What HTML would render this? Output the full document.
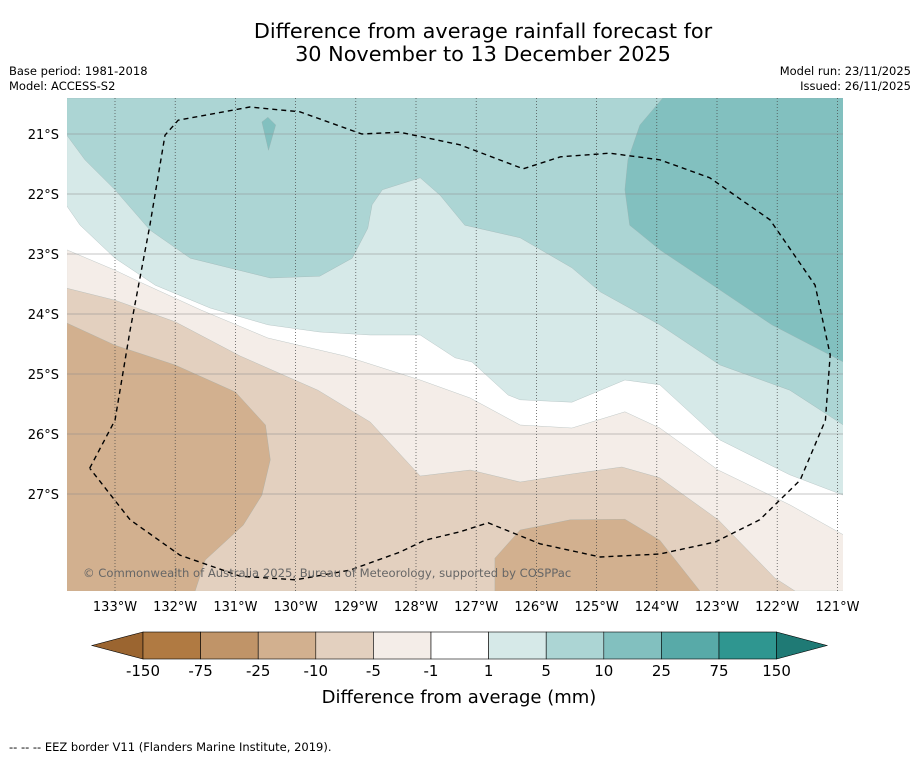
<!DOCTYPE html>
<html><head><meta charset="utf-8">
<style>
body{margin:0;background:#fff;font-family:"Liberation Sans","DejaVu Sans",sans-serif;}
svg text{font-family:"DejaVu Sans","Liberation Sans",sans-serif;}
</style></head>
<body>
<svg id="chart" width="919" height="758" viewBox="0 0 919 758" xmlns="http://www.w3.org/2000/svg">
<text x="483" y="38" font-size="20.8" text-anchor="middle">Difference from average rainfall forecast for</text>
<text x="483" y="61" font-size="20.8" text-anchor="middle">30 November to 13 December 2025</text>
<text x="9" y="75" font-size="11.5">Base period: 1981-2018</text>
<text x="9" y="90" font-size="11.5">Model: ACCESS-S2</text>
<text x="911" y="75" font-size="11.5" text-anchor="end">Model run: 23/11/2025</text>
<text x="911" y="90" font-size="11.5" text-anchor="end">Issued: 26/11/2025</text>
<defs><clipPath id="plotclip"><rect x="67" y="98" width="776" height="493"/></clipPath></defs>
<g id="plot" clip-path="url(#plotclip)"></g>
<g id="axes"></g>
<g id="cbar"></g>
<text x="459" y="703" font-size="18" text-anchor="middle">Difference from average (mm)</text>
<text x="9" y="751" font-size="11.5">--  --  -- EEZ border V11 (Flanders Marine Institute, 2019).</text>
</svg>
<script>
// axes definitions
const lonTicks=[133,132,131,130,129,128,127,126,125,124,123,122,121];
const latTicks=[21,22,23,24,25,26,27];
// colorbar data
const cbarLevels=[-150,-75,-25,-10,-5,-1,1,5,10,25,75,150];
const cbarColors=["#b07a42","#c09468","#d2b08f","#e3d0bf","#f4ede8","#ffffff","#d6e9e8","#acd5d4","#82c0bf","#58aaa8","#2f9690"];
const cbarExtendColors=["#9b6530","#1f7a75"];
// contour boundaries (lon °W, lat °S)
const bMinus1=[[133.8,22.93],[133,23.27],[132.58,23.47],[131.58,23.93],[130.46,24.4],[129.18,24.7],[127.93,25.1],[127.1,25.4],[126.27,25.85],[125.41,25.9],[124.53,25.63],[123.95,25.9],[122.98,26.6],[121.79,27.18],[120.9,27.68]];
const bMinus5=[[133.8,23.57],[133,23.77],[132,24.13],[130.92,24.7],[129.63,25.27],[128.76,25.8],[127.93,26.7],[127.1,26.6],[126.27,26.8],[125.44,26.67],[124.58,26.55],[123.95,26.73],[122.98,27.43],[122.04,28.4],[121.7,28.62]];
const bMinus10a=[[133.8,24.15],[133,24.52],[132,24.85],[131,25.3],[130.5,25.85],[130.42,26.43],[130.56,27.02],[130.87,27.52],[131.5,28.1],[131.67,28.62]];
const bMinus10b=[[126.69,28.62],[126.69,28.07],[126.27,27.6],[125.44,27.43],[124.53,27.42],[123.95,27.77],[123.28,28.62]];
const bPlus1=[[133.8,22.2],[133.58,22.52],[133,23.07],[132.33,23.52],[131.42,23.9],[130.46,24.18],[129.6,24.3],[128.76,24.35],[127.93,24.35],[127.35,24.73],[127.07,24.8],[126.47,25.35],[126.27,25.43],[125.41,25.47],[124.53,25.1],[123.95,25.18],[122.95,26.1],[121.79,26.68],[120.9,27.02]];
const bPlus5=[[133.8,21.02],[133.5,21.43],[133,21.93],[132.42,22.6],[131.75,23.07],[130.42,23.4],[129.6,23.37],[129.06,23.07],[128.8,22.57],[128.73,22.18],[128.56,21.93],[127.93,21.73],[127.6,22.02],[127.19,22.52],[126.27,22.73],[125.41,23.23],[124.94,23.63],[123.95,24.18],[122.95,24.85],[121.79,25.27],[120.9,25.85]];
const bPlus10=[[123.9,20.4],[124.28,20.85],[124.48,21.43],[124.53,21.93],[124.45,22.52],[123.95,22.93],[122.95,23.6],[122.09,24.18],[120.9,24.8]];
const bPlus10spike=[[130.56,20.8],[130.46,20.72],[130.33,20.85],[130.45,21.27]];
const eez=[[133.42,26.57],[133,25.77],[132.75,24.27],[132.42,22.52],[132.17,21.02],[131.95,20.77],[130.76,20.55],[129.93,20.63],[128.9,21],[128.27,20.97],[127.27,21.18],[126.22,21.58],[125.6,21.38],[124.78,21.32],[123.95,21.43],[123.12,21.73],[122.12,22.43],[121.37,23.52],[121.12,24.68],[121.2,25.77],[121.62,26.77],[122.29,27.43],[123.03,27.8],[123.95,28],[124.94,28.05],[125.94,27.83],[126.8,27.48],[127.27,27.63],[127.85,27.77],[128.27,27.97],[129.1,28.27],[130,28.43],[130.92,28.37],[131.92,28.02],[132.75,27.43],[133.42,26.57]];

const NS="http://www.w3.org/2000/svg";
function X(lonW){return 115+(133-lonW)*60.2;}
function Y(latS){return 134+(latS-21)*60;}
function mk(tag,attrs,parent){const e=document.createElementNS(NS,tag);for(const k in attrs)e.setAttribute(k,attrs[k]);parent.appendChild(e);return e;}
function pts(arr){return arr.map(p=>X(p[0]).toFixed(1)+","+Y(p[1]).toFixed(1)).join(" ");}
const plot=document.getElementById("plot"),axes=document.getElementById("axes"),cbar=document.getElementById("cbar");
const L=133.8,R=120.9,T=20.4,B=28.62;
mk("rect",{x:67,y:98,width:776,height:493,fill:"#ffffff"},plot);
function band(arr,extra,color,name){
  const p=mk("polygon",{points:pts(arr.concat(extra)),fill:color,stroke:"#9aa",["stroke-width"]:0.3},plot);
  
  
}
band(bMinus1,[[R,B],[L,B]],cbarColors[4],"region-minus1-to-minus5");
band(bMinus5,[[R,B],[L,B]],cbarColors[3],"region-minus5-to-minus10");
band(bMinus10a,[[L,B]],cbarColors[2],"region-minus10-to-minus25-west");
band(bMinus10b,[],cbarColors[2],"region-minus10-to-minus25-south");
band(bPlus1,[[R,T],[L,T]],cbarColors[6],"region-1-to-5");
band(bPlus5,[[R,T],[L,T]],cbarColors[7],"region-5-to-10");
band(bPlus10,[[R,T]],cbarColors[8],"region-10-to-25");
band(bPlus10spike,[],cbarColors[8],"region-10-to-25-spike");
// gridlines
lonTicks.forEach(l=>{
  const g=mk("line",{x1:X(l),x2:X(l),y1:98,y2:591,stroke:"#444",["stroke-width"]:0.7,["stroke-dasharray"]:"1,2"},plot);
  
  
  const t=mk("text",{x:X(l),y:611,["font-size"]:13,["text-anchor"]:"middle"},axes);
  t.textContent=l+"°W";
  
  
});
latTicks.forEach(l=>{
  const g=mk("line",{x1:67,x2:843,y1:Y(l),y2:Y(l),stroke:"#8a8a8a",["stroke-width"]:0.6},plot);
  
  
  const t=mk("text",{x:59,y:Y(l)+5,["font-size"]:13,["text-anchor"]:"end"},axes);
  t.textContent=l+"°S";
  
  
});
const e=mk("polyline",{points:pts(eez),fill:"none",stroke:"#000",["stroke-width"]:1.4,["stroke-dasharray"]:"5,4","stroke-linejoin":"round"},plot);


const cp=mk("text",{x:83,y:577,["font-size"]:11.6,fill:"#666"},plot);
cp.textContent="© Commonwealth of Australia 2025, Bureau of Meteorology, supported by COSPPac";


// colorbar
const cx0=143,cw=57.6,cy=632,ch=27;
const lt=mk("polygon",{points:`${cx0},${cy} 92,${cy+ch/2} ${cx0},${cy+ch}`,fill:cbarExtendColors[0],stroke:"#000",["stroke-width"]:0.6},cbar);


cbarColors.forEach((c,i)=>{
  const r=mk("rect",{x:cx0+i*cw,y:cy,width:cw,height:ch,fill:c,stroke:"#000",["stroke-width"]:0.6},cbar);
  
  
});
const xe=cx0+cbarColors.length*cw;
const rt=mk("polygon",{points:`${xe},${cy} 827,${cy+ch/2} ${xe},${cy+ch}`,fill:cbarExtendColors[1],stroke:"#000",["stroke-width"]:0.6},cbar);


cbarLevels.forEach((v,i)=>{
  const t=mk("text",{x:cx0+i*cw,y:676,["font-size"]:15,["text-anchor"]:"middle"},cbar);
  t.textContent=v;
  
  
});
</script>
</body></html>
